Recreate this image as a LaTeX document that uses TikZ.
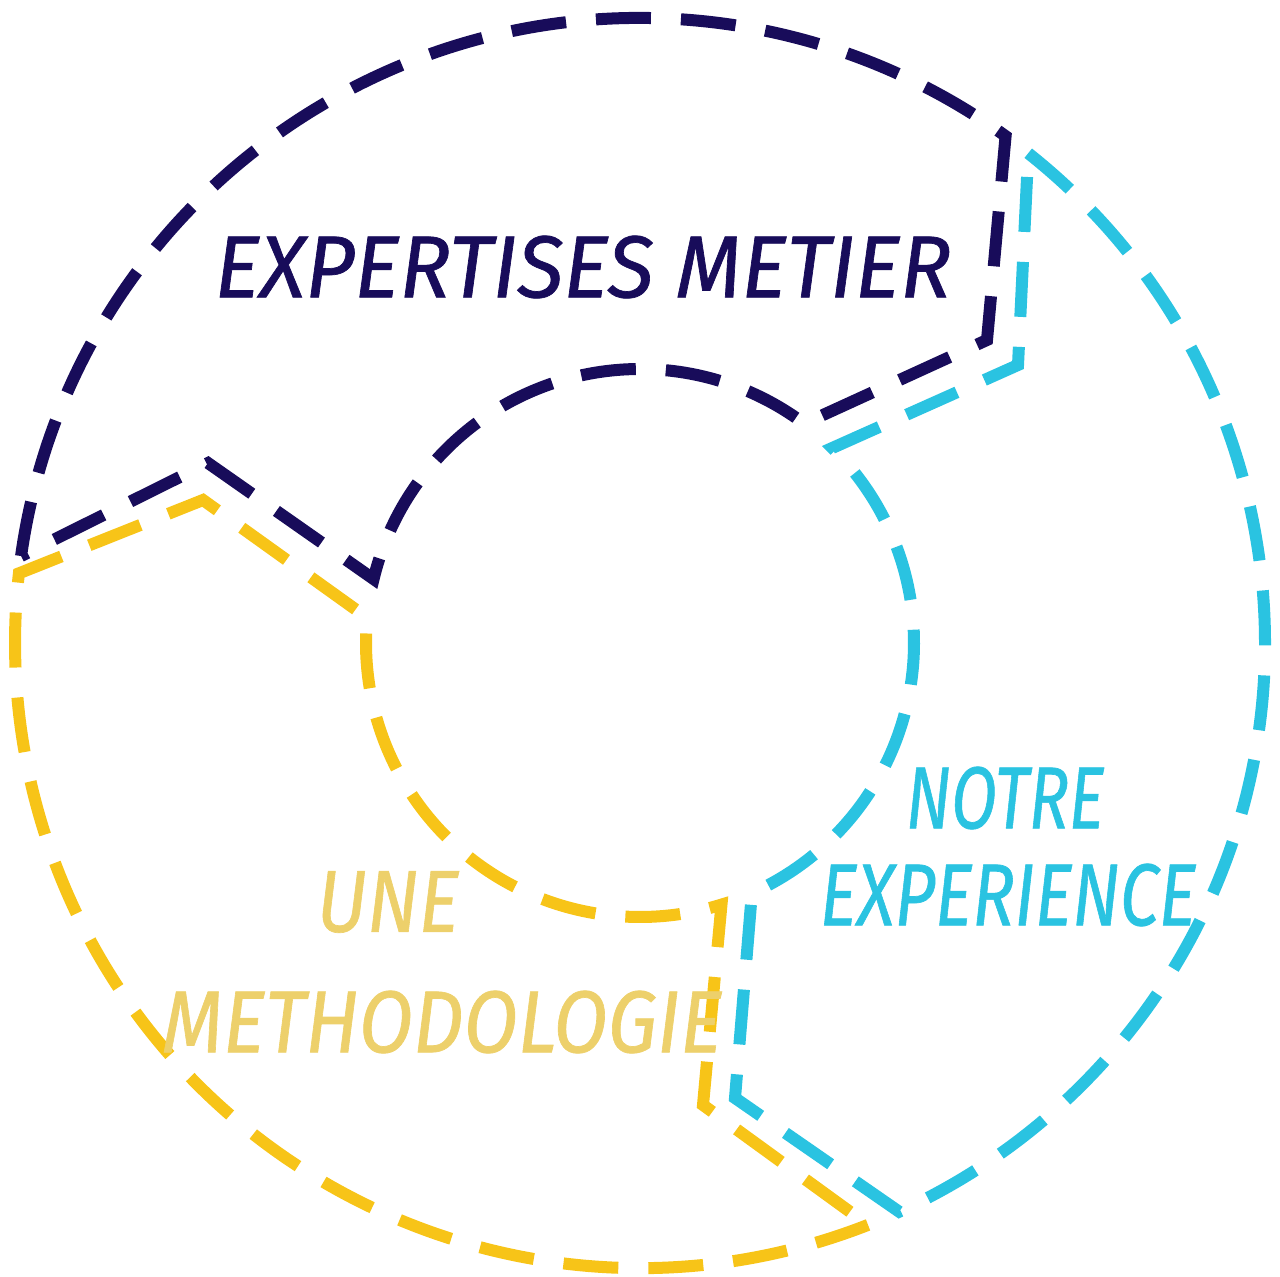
\documentclass[tikz,border=0pt]{standalone}
\usepackage{fontspec}
\usepackage{tikz}
\usetikzlibrary{positioning}
\newfontfamily\handfont[FakeBold=0.8]{Fira Sans}
\definecolor{metier}{RGB}{24,12,90}
\definecolor{experience}{RGB}{42,195,225}
\definecolor{methode}{RGB}{247,196,24}
\definecolor{methodetext}{RGB}{237,208,107}

\begin{document}
\begin{tikzpicture}[
    x=0.01cm, y=0.01cm,
    segment/.style={
		line width=0.12cm,
		dash pattern=on 0.55cm off 0.3cm
	},
	caption/.style={
		font=\handfont\itshape\fontsize{25}{28}\selectfont,
		inner sep=0pt
	}
  ]

\useasboundingbox (-640,-633) rectangle (640,643);

% // expertises (top)
\draw [segment, draw=metier] (172:625) arc [start angle=172, end angle=54.2, radius=625]
  -- (347,303) -- (53.2:274) arc [start angle=53.2, end angle=166.5, radius=274]
  -- (-432,180) -- cycle;

% // experience (right)
\draw [segment, draw=experience] (51.6:625) arc [start angle=51.6, end angle=-65.5, radius=625]
  -- (95,-455) -- (-65.9:274) arc [start angle=-65.9, end angle=45.4, radius=274]
  -- (378,278) -- cycle;

% // methodologie (bottom left)
\draw [segment, draw=methode] (-68.6:625) arc [start angle=-68.6, end angle=-186.4, radius=625]
  -- (-437,143) -- (174.7:274) arc [start angle=174.7, end angle=287.3, radius=274]
  -- (63,-462) -- cycle;

% labels
\node [caption, text=metier, xscale=0.97] (metier) at (-57,376) {EXPERTISES METIER};
\node [caption, text=experience, xscale=0.76] (notre) at (365,-155) {NOTRE};
\node [caption, text=experience, xscale=0.8] (exp) at (368,-252) {EXPERIENCE};
\node [caption, text=methodetext, xscale=0.87] (une) at (-252,-259) {UNE};
\node [caption, text=methodetext, xscale=0.9] (methodo) at (-198,-379) {METHODOLOGIE};

\end{tikzpicture}
\end{document}
